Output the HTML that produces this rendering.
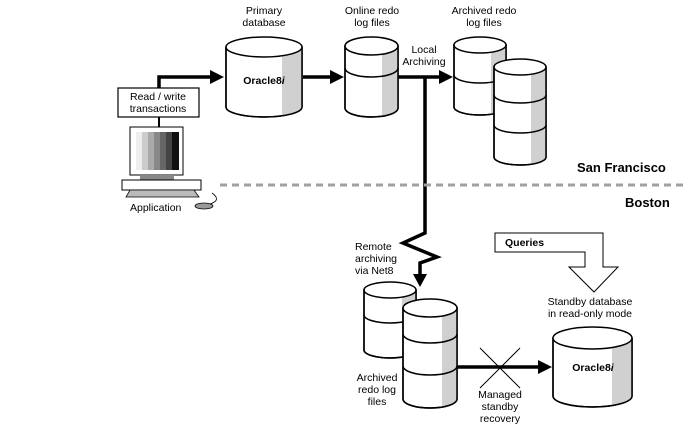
<!DOCTYPE html>
<html><head><meta charset="utf-8"><style>
html,body{margin:0;padding:0;background:#fff}
svg{display:block}
text{font-family:"Liberation Sans",Arial,sans-serif;font-size:10.5px;fill:#000}
.b{font-weight:bold}
</style></head><body>
<svg width="688" height="438" viewBox="0 0 688 438" xmlns="http://www.w3.org/2000/svg">
<defs>
<clipPath id="c1"><path d="M226 47 L226 107 A38 10 0 0 0 302 107 L302 47 Z"/></clipPath>
<clipPath id="c2"><path d="M345 46 L345 108 A26.5 9 0 0 0 398 108 L398 46 Z"/></clipPath>
<clipPath id="c3"><path d="M454 45 L454 107 A26 8 0 0 0 506 107 L506 45 Z"/></clipPath>
<clipPath id="c4"><path d="M494 67 L494 157 A26 8 0 0 0 546 157 L546 67 Z"/></clipPath>
<clipPath id="c5"><path d="M364 290 L364 350 A26 8 0 0 0 416 350 L416 290 Z"/></clipPath>
<clipPath id="c6"><path d="M403 308 L403 399 A27 9 0 0 0 457 399 L457 308 Z"/></clipPath>
<clipPath id="c7"><path d="M553 338 L553 396 A39.5 11 0 0 0 632 396 L632 338 Z"/></clipPath>
</defs>
<g stroke="#000" stroke-width="1.5" fill="#fff">
<path d="M226 47 L226 107 A38 10 0 0 0 302 107 L302 47 Z"/>
<rect x="282" y="40" width="22" height="80" fill="#d0d0d0" stroke="none" clip-path="url(#c1)"/>
<path d="M226 47 L226 107 A38 10 0 0 0 302 107 L302 47" fill="none"/>
<ellipse cx="264" cy="47" rx="38" ry="10"/>
<path d="M345 46 L345 108 A26.5 9 0 0 0 398 108 L398 46 Z"/>
<rect x="382" y="40" width="18" height="80" fill="#d0d0d0" stroke="none" clip-path="url(#c2)"/>
<path d="M345 46 L345 108 A26.5 9 0 0 0 398 108 L398 46" fill="none"/>
<path d="M345 68 A26.5 9 0 0 0 398 68" fill="none"/>
<ellipse cx="371.5" cy="46" rx="26.5" ry="9"/>
<path d="M454 45 L454 107 A26 8 0 0 0 506 107 L506 45 Z"/>
<rect x="491" y="40" width="16" height="80" fill="#d0d0d0" stroke="none" clip-path="url(#c3)"/>
<path d="M454 45 L454 107 A26 8 0 0 0 506 107 L506 45" fill="none"/>
<path d="M454 75 A26 8 0 0 0 506 75" fill="none"/>
<ellipse cx="480" cy="45" rx="26" ry="8"/>
<path d="M494 67 L494 157 A26 8 0 0 0 546 157 L546 67 Z"/>
<rect x="531" y="60" width="16" height="110" fill="#d0d0d0" stroke="none" clip-path="url(#c4)"/>
<path d="M494 67 L494 157 A26 8 0 0 0 546 157 L546 67" fill="none"/>
<path d="M494 95 A26 8 0 0 0 546 95 M494 125 A26 8 0 0 0 546 125" fill="none"/>
<ellipse cx="520" cy="67" rx="26" ry="8"/>
<path d="M364 290 L364 350 A26 8 0 0 0 416 350 L416 290 Z"/>
<rect x="402" y="280" width="16" height="80" fill="#d0d0d0" stroke="none" clip-path="url(#c5)"/>
<path d="M364 290 L364 350 A26 8 0 0 0 416 350 L416 290" fill="none"/>
<path d="M364 315 A26 8 0 0 0 416 315" fill="none"/>
<ellipse cx="390" cy="290" rx="26" ry="8"/>
<path d="M403 308 L403 399 A27 9 0 0 0 457 399 L457 308 Z"/>
<rect x="442" y="300" width="16" height="110" fill="#d0d0d0" stroke="none" clip-path="url(#c6)"/>
<path d="M403 308 L403 399 A27 9 0 0 0 457 399 L457 308" fill="none"/>
<path d="M403 334 A27 9 0 0 0 457 334 M403 366 A27 9 0 0 0 457 366" fill="none"/>
<ellipse cx="430" cy="308" rx="27" ry="9"/>
<path d="M553 338 L553 396 A39.5 11 0 0 0 632 396 L632 338 Z"/>
<rect x="612" y="330" width="22" height="80" fill="#d0d0d0" stroke="none" clip-path="url(#c7)"/>
<path d="M553 338 L553 396 A39.5 11 0 0 0 632 396 L632 338" fill="none"/>
<ellipse cx="592.5" cy="338" rx="39.5" ry="11"/>
</g>
<g stroke="#000" stroke-width="3.5" fill="none">
<path d="M159 88 L159 77 L212 77"/>
<path d="M159 117 L159 127" stroke-width="2"/>
<path d="M303 77 L332 77"/>
<path d="M398 77 L441 77"/>
<path d="M425 77 L425 233 L403 243 L437 257 L420 263 L420 276" stroke-linejoin="miter"/>
<path d="M457 367 L540 367"/>
</g>
<g fill="#000">
<polygon points="210,70 224,77 210,84"/>
<polygon points="330,70 344,77 330,84"/>
<polygon points="439,70 453,77 439,84"/>
<polygon points="413,274 427,274 420,287"/>
<polygon points="538,360 552,367 538,374"/>
</g>
<path d="M480 348 L520 388 M520 348 L480 388" stroke="#000" stroke-width="1"/>
<line x1="220" y1="185" x2="688" y2="185" stroke="#a0a0a0" stroke-width="3" stroke-dasharray="7,5"/>
<polygon points="495,233 603,233 603,267 618,267 594,292 569,267 585,267 585,252 495,252" fill="#fff" stroke="#000" stroke-width="1"/>
<rect x="118" y="88" width="81" height="29" fill="#fff" stroke="#000" stroke-width="1.2"/>
<rect x="130" y="127" width="53" height="48" fill="#fff" stroke="#000" stroke-width="1"/>
<rect x="136" y="132" width="6" height="38" fill="#eee"/>
<rect x="142" y="132" width="6" height="38" fill="#ccc"/>
<rect x="148" y="132" width="6" height="38" fill="#aaa"/>
<rect x="154" y="132" width="6" height="38" fill="#888"/>
<rect x="160" y="132" width="6" height="38" fill="#666"/>
<rect x="166" y="132" width="6" height="38" fill="#444"/>
<rect x="172" y="132" width="7" height="38" fill="#111"/>
<rect x="140" y="175" width="34" height="5" fill="#888"/>
<rect x="122" y="180" width="79" height="10" fill="#fff" stroke="#000" stroke-width="1"/>
<polygon points="130,190 194,190 199,197 126,197" fill="#bbb" stroke="#000" stroke-width="0.8"/>
<ellipse cx="204" cy="206" rx="9" ry="3" fill="#999" stroke="#000" stroke-width="0.8"/>
<path d="M210 204 Q222 200 212 193" fill="none" stroke="#000" stroke-width="0.8"/>
<g text-anchor="middle">
<text x="264" y="14">Primary</text><text x="264" y="26">database</text>
<text x="372" y="14">Online redo</text><text x="372" y="26">log files</text>
<text x="424" y="53">Local</text><text x="424" y="65">Archiving</text>
<text x="484" y="14">Archived redo</text><text x="484" y="26">log files</text>
<text x="158" y="100">Read / write</text><text x="158" y="112">transactions</text>
<text x="264" y="84" class="b">Oracle8<tspan font-style="italic">i</tspan></text>
<text x="593" y="371" class="b">Oracle8<tspan font-style="italic">i</tspan></text>
<text x="377" y="381">Archived</text><text x="377" y="393">redo log</text><text x="377" y="405">files</text>
<text x="500" y="398">Managed</text><text x="500" y="410">standby</text><text x="500" y="422">recovery</text>
<text x="590" y="305">Standby database</text><text x="590" y="317">in read-only mode</text>
</g>
<text x="355" y="250">Remote</text><text x="355" y="262">archiving</text><text x="355" y="274">via Net8</text>
<text x="505" y="246" class="b">Queries</text>
<text x="130" y="211">Application</text>
<text x="577" y="172" class="b" style="font-size:13px">San Francisco</text>
<text x="625" y="207" class="b" style="font-size:13px">Boston</text>
</svg>
</body></html>
